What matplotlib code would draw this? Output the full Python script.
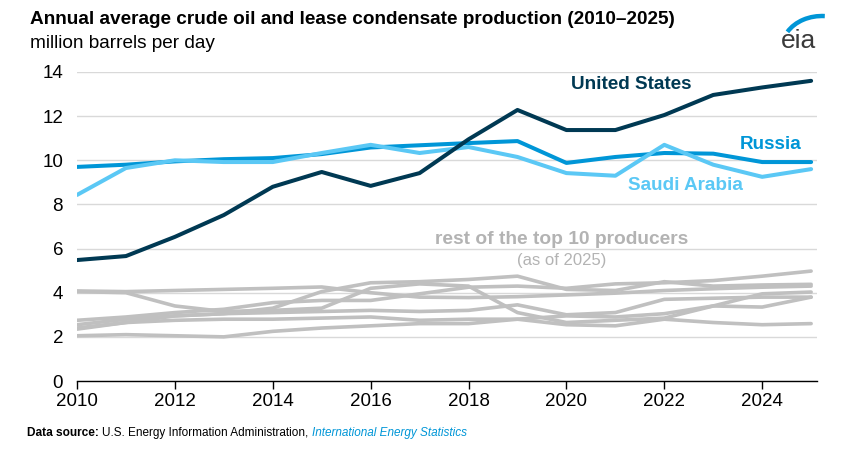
import numpy as np
import matplotlib.pyplot as plt
from matplotlib.patches import Arc

plt.rcParams['font.family'] = ['Liberation Sans', 'DejaVu Sans']

years = list(range(2010, 2026))

# million barrels per day
united_states = [5.48, 5.66, 6.53, 7.52, 8.8, 9.47, 8.84, 9.42, 10.95, 12.28, 11.37, 11.37, 12.05, 12.96, 13.3, 13.6]
russia = [9.7, 9.8, 9.95, 10.05, 10.1, 10.28, 10.58, 10.68, 10.78, 10.87, 9.88, 10.15, 10.33, 10.3, 9.92, 9.92]
saudi_arabia = [8.43, 9.65, 10.0, 9.92, 9.92, 10.33, 10.7, 10.33, 10.6, 10.15, 9.42, 9.3, 10.7, 9.8, 9.25, 9.6]

# rest of the top 10 producers (as of 2025)
canada = [2.75, 2.9, 3.1, 3.25, 3.55, 3.65, 3.65, 3.95, 4.25, 4.3, 4.2, 4.4, 4.45, 4.55, 4.75, 4.98]
iraq = [2.4, 2.65, 2.95, 3.05, 3.3, 4.05, 4.45, 4.5, 4.6, 4.75, 4.15, 4.1, 4.5, 4.3, 4.35, 4.38]
china = [4.08, 4.05, 4.1, 4.15, 4.2, 4.26, 4.0, 3.8, 3.78, 3.82, 3.9, 3.98, 4.1, 4.18, 4.25, 4.3]
iran = [4.05, 4.0, 3.4, 3.15, 3.2, 3.3, 4.2, 4.4, 4.3, 3.1, 2.65, 2.75, 2.85, 3.4, 3.95, 4.03]
uae = [2.55, 2.8, 2.95, 3.05, 3.1, 3.15, 3.2, 3.15, 3.2, 3.45, 3.0, 3.1, 3.7, 3.75, 3.8, 3.8]
brazil = [2.05, 2.1, 2.05, 2.0, 2.25, 2.4, 2.5, 2.6, 2.6, 2.8, 2.95, 2.9, 3.05, 3.4, 3.35, 3.8]
kuwait = [2.35, 2.65, 2.75, 2.8, 2.8, 2.85, 2.9, 2.75, 2.8, 2.8, 2.55, 2.5, 2.8, 2.65, 2.55, 2.6]
others = [canada, iraq, china, iran, uae, brazil, kuwait]

navy = '#003953'
mid_blue = '#0096d7'
light_blue = '#5bc8f5'
gray = '#c0c0c0'

fig = plt.figure(figsize=(8.44, 4.58), dpi=100)
ax = fig.add_axes([77 / 844, 1 - 381 / 458, 740 / 844, 309 / 458])

for s in others:
    ax.plot(years, s, color=gray, lw=2.6, solid_capstyle='round', solid_joinstyle='round', zorder=2)
ax.plot(years, russia, color=mid_blue, lw=2.9, solid_capstyle='round', zorder=3)
ax.plot(years, saudi_arabia, color=light_blue, lw=2.9, solid_capstyle='round', zorder=3)
ax.plot(years, united_states, color=navy, lw=2.9, solid_capstyle='round', zorder=4)

ax.set_xlim(2010, 2025.12)
ax.set_ylim(0, 14)
ax.set_yticks(range(0, 15, 2))
ax.set_xticks(range(2010, 2025, 2))
ax.grid(axis='y', color='#d9d9d9', lw=1)
ax.set_axisbelow(True)
for side in ['top', 'right', 'left']:
    ax.spines[side].set_visible(False)
ax.spines['bottom'].set_color('black')
ax.spines['bottom'].set_linewidth(1)
ax.tick_params(axis='y', length=0, labelsize=13.5, pad=10)
ax.tick_params(axis='x', length=6, width=1, labelsize=13.5, pad=3)

# series labels
ax.text(2020.1, 13.45, 'United States', color=navy, fontsize=13.6, fontweight='bold', ha='left', va='center')
ax.text(2023.55, 10.7, 'Russia', color=mid_blue, fontsize=13.6, fontweight='bold', ha='left', va='center')
ax.text(2021.26, 8.84, 'Saudi Arabia', color=light_blue, fontsize=13.6, fontweight='bold', ha='left', va='center')
ax.text(2019.9, 6.39, 'rest of the top 10 producers', color='#b3b3b3', fontsize=13.8, fontweight='bold', ha='center', va='center')
ax.text(2019.9, 5.44, '(as of 2025)', color='#b3b3b3', fontsize=12, ha='center', va='center')

# titles
fig.text(30 / 844, 1 - 19 / 458, 'Annual average crude oil and lease condensate production (2010\u20132025)',
         fontsize=13.7, fontweight='bold', va='center', ha='left')
fig.text(30 / 844, 1 - 43 / 458, 'million barrels per day', fontsize=13.7, va='center', ha='left')

# footer
t1 = fig.text(27 / 844, 1 - 433 / 458, 'Data source: ', fontsize=8.6, fontweight='bold', va='center', ha='left')
t2 = ax.annotate('U.S. Energy Information Administration, ', xy=(1, 0.5), xycoords=t1, fontsize=8.5,
                 va='center', ha='left', annotation_clip=False)
ax.annotate('International Energy Statistics', xy=(1, 0.5), xycoords=t2, fontsize=8.5, style='italic',
            color=mid_blue, va='center', ha='left', annotation_clip=False)

# eia logo
logo = fig.add_axes([760 / 844, 1 - 60 / 458, 70 / 844, 50 / 458])
logo.set_xlim(760, 830)
logo.set_ylim(60, 10)
logo.axis('off')
logo.text(798, 41, 'eia', fontsize=19, color='#3a3a3a', ha='center', va='center')
logo.add_patch(Arc((822, 48), 80, 64, theta1=205, theta2=275, color=mid_blue, lw=3.2))

fig.savefig('out.png', dpi=100)
